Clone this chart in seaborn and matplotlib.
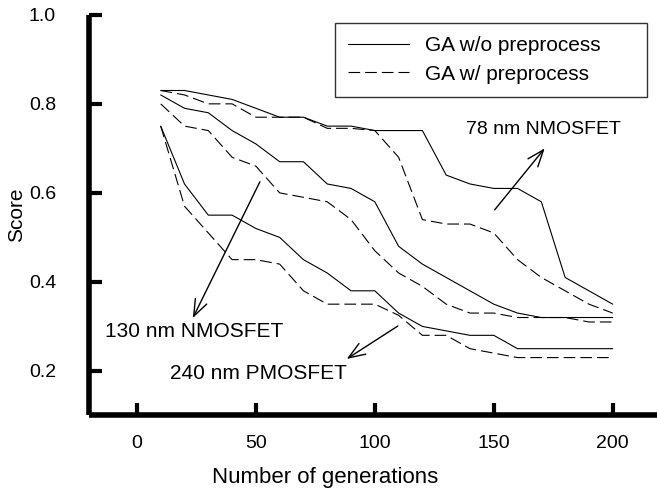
import matplotlib
matplotlib.use("Agg")
import matplotlib.pyplot as plt
from matplotlib.lines import Line2D
import numpy as np
import pandas as pd
import seaborn as sns

# Generations sampled every 10 steps
generations = [10, 20, 30, 40, 50, 60, 70, 80, 90, 100,
               110, 120, 130, 140, 150, 160, 170, 180, 190, 200]

# 78 nm NMOSFET
nm78_without = [0.83, 0.83, 0.82, 0.81, 0.79, 0.77, 0.77, 0.75, 0.75, 0.74,
                0.74, 0.74, 0.64, 0.62, 0.61, 0.61, 0.58, 0.41, 0.38, 0.35]
nm78_with = [0.83, 0.82, 0.80, 0.80, 0.77, 0.77, 0.77, 0.745, 0.745, 0.74,
             0.68, 0.54, 0.53, 0.53, 0.51, 0.45, 0.41, 0.38, 0.35, 0.33]

# 130 nm NMOSFET
nm130_without = [0.82, 0.79, 0.78, 0.74, 0.71, 0.67, 0.67, 0.62, 0.61, 0.58,
                 0.48, 0.44, 0.41, 0.38, 0.35, 0.33, 0.32, 0.32, 0.32, 0.32]
nm130_with = [0.80, 0.75, 0.74, 0.68, 0.66, 0.60, 0.59, 0.58, 0.54, 0.47,
              0.42, 0.39, 0.35, 0.33, 0.33, 0.32, 0.32, 0.32, 0.31, 0.31]

# 240 nm PMOSFET
nm240_without = [0.75, 0.62, 0.55, 0.55, 0.52, 0.50, 0.45, 0.42, 0.38, 0.38,
                 0.33, 0.30, 0.29, 0.28, 0.28, 0.25, 0.25, 0.25, 0.25, 0.25]
nm240_with = [0.75, 0.57, 0.51, 0.45, 0.45, 0.44, 0.38, 0.35, 0.35, 0.35,
              0.325, 0.28, 0.28, 0.25, 0.24, 0.23, 0.23, 0.23, 0.23, 0.23]

methods = ["GA w/o preprocess", "GA w/ preprocess"]
devices = ["78 nm NMOSFET", "130 nm NMOSFET", "240 nm PMOSFET"]

series = {
    ("78 nm NMOSFET", methods[0]): nm78_without,
    ("78 nm NMOSFET", methods[1]): nm78_with,
    ("130 nm NMOSFET", methods[0]): nm130_without,
    ("130 nm NMOSFET", methods[1]): nm130_with,
    ("240 nm PMOSFET", methods[0]): nm240_without,
    ("240 nm PMOSFET", methods[1]): nm240_with,
}

rows = []
for (dev, meth), vals in series.items():
    for g, v in zip(generations, vals):
        rows.append({"gen": g, "score": v, "device": dev, "method": meth})
df = pd.DataFrame(rows)

sns.set_theme(style="ticks")
plt.rcParams["font.family"] = ["Liberation Sans", "DejaVu Sans"]
plt.rcParams["text.color"] = "black"
plt.rcParams["axes.labelcolor"] = "black"

fig = plt.figure(figsize=(6.57, 4.94), dpi=100)
ax = fig.add_axes([0.136, 0.159, 0.869, 0.811])

DASH = (10.5, 4.5)
dash_map = {methods[0]: "", methods[1]: DASH}
sns.lineplot(data=df, x="gen", y="score", hue="device", style="method",
             units="device", estimator=None,
             palette={d: "black" for d in devices}, dashes=dash_map,
             linewidth=0.8, legend=False, ax=ax)

ax.set_xlim(-20, 220)
ax.set_ylim(0.1, 1.0)
ax.set_xticks([0, 50, 100, 150, 200])
ax.set_yticks([0.2, 0.4, 0.6, 0.8, 1.0])
ax.set_yticklabels(["0.2", "0.4", "0.6", "0.8", "1.0"])

for side in ["top", "right"]:
    ax.spines[side].set_visible(False)
for side in ["left", "bottom"]:
    ax.spines[side].set_linewidth(4)
    ax.spines[side].set_color("black")
    ax.spines[side].set_capstyle("butt")

ax.tick_params(axis="both", direction="in", length=9, width=3,
               colors="black", labelsize=14)
ax.tick_params(axis="y", pad=24)
ax.tick_params(axis="x", pad=14)

ax.set_xlabel("Number of generations", fontsize=16, labelpad=12)
ax.xaxis.set_label_coords(0.413, -0.128)
ax.set_ylabel("Score", fontsize=15, labelpad=2)

handles = [Line2D([], [], color="black", lw=0.8, linestyle="-"),
           Line2D([], [], color="black", lw=0.8, dashes=DASH)]
leg = ax.legend(handles, methods, loc="upper left",
                bbox_to_anchor=(0.430, 0.788, 0.547, 0.192), mode="expand",
                fontsize=15, frameon=True, fancybox=False,
                handlelength=2.9, handletextpad=0.8,
                borderpad=0.65, labelspacing=0.45, borderaxespad=0)
leg.get_frame().set_edgecolor("black")
leg.get_frame().set_linewidth(1.0)

arrow = dict(arrowstyle="->,head_length=1.0,head_width=0.38",
             color="black", lw=1.0, shrinkA=0, shrinkB=0)
ax.annotate("", xy=(171.4, 0.70), xytext=(150.4, 0.562), arrowprops=arrow)
ax.text(171, 0.742, "78 nm NMOSFET", fontsize=14, ha="center", va="center")

ax.annotate("", xy=(23.5, 0.319), xytext=(51.7, 0.625), arrowprops=arrow)
ax.text(24, 0.288, "130 nm NMOSFET", fontsize=15, ha="center", va="center")

ax.annotate("", xy=(88.2, 0.227), xytext=(109.7, 0.301), arrowprops=arrow)
ax.text(51, 0.195, "240 nm PMOSFET", fontsize=15, ha="center", va="center")

fig.savefig("out.png", dpi=100)
